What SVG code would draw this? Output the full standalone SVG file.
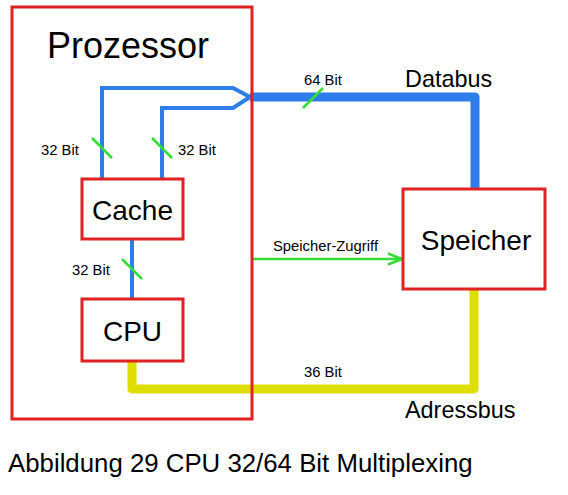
<svg xmlns="http://www.w3.org/2000/svg" width="568" height="495" viewBox="0 0 568 495">
  <style>
    text { font-family: "Liberation Sans", Arial, sans-serif; fill: #000; }
    .box { fill: #fff; stroke: #e02222; stroke-width: 3; }
    .frame { fill: none; stroke: #e02222; stroke-width: 3; }
    .thin { fill: none; stroke: #2f7de8; stroke-width: 4; stroke-linejoin: miter; }
    .bus { fill: none; stroke: #2f7de8; stroke-width: 9; stroke-linejoin: round; }
    .abus { fill: none; stroke: #dede00; stroke-width: 9; stroke-linejoin: round; }
    .tick { stroke: #33dd33; stroke-width: 2.5; }
    .acc { stroke: #33dd33; stroke-width: 2.5; fill: none; }
    .small { font-size: 14.8px; }
    .big { font-size: 28px; }
    .mid { font-size: 23.4px; }
  </style>
  <defs>
    <marker id="chev" viewBox="0 0 16 14" refX="15" refY="7" markerUnits="userSpaceOnUse" markerWidth="16" markerHeight="14" orient="auto">
      <path d="M1,1.5 L15,7 L1,12.5" fill="none" stroke="#33dd33" stroke-width="2.5"/>
    </marker>
  </defs>
  <rect width="568" height="495" fill="#fff"/>
  <g id="connectors">
    <path class="thin" d="M102,180 V88 H233 L250,97"/>
    <path class="thin" d="M162,180 V108 H233 L250,97"/>
    <path class="bus" d="M250,97 H475 V188"/>
    <path class="thin" d="M132,239 V299"/>
    <path class="abus" d="M132,361 V389 H474 V289"/>
    <line class="acc" x1="253" y1="259" x2="402" y2="259" marker-end="url(#chev)"/>
    <line class="tick" x1="92" y1="138" x2="112" y2="158"/>
    <line class="tick" x1="152" y1="138" x2="172" y2="158"/>
    <line class="tick" x1="122" y1="259" x2="142" y2="279"/>
    <line class="tick" x1="303" y1="108" x2="323" y2="88"/>
    <text class="small" x="41" y="155">32 Bit</text>
    <text class="small" x="178" y="155">32 Bit</text>
    <text class="small" x="72" y="275">32 Bit</text>
    <text class="small" x="304" y="85">64 Bit</text>
    <text class="small" x="304" y="377">36 Bit</text>
    <text class="small" x="273" y="251">Speicher-Zugriff</text>
    <text class="mid" x="405" y="87">Databus</text>
    <text class="mid" x="405" y="418">Adressbus</text>
  </g>
  <g id="prozessor">
    <rect class="frame" x="12" y="7" width="240" height="412"/>
    <text x="47" y="58" font-size="36">Prozessor</text>
  </g>
  <g id="cache">
    <rect class="box" x="82" y="179" width="101" height="60"/>
    <text class="big" x="132.5" y="220" text-anchor="middle">Cache</text>
  </g>
  <g id="cpu">
    <rect class="box" x="82" y="299" width="101" height="62"/>
    <text class="big" x="132.5" y="341" text-anchor="middle">CPU</text>
  </g>
  <g id="speicher">
    <rect class="box" x="403" y="189" width="142" height="100"/>
    <text class="big" x="476" y="250" text-anchor="middle">Speicher</text>
  </g>
  <text x="8" y="472" font-size="25.8">Abbildung 29 CPU 32/64 Bit Multiplexing</text>
</svg>
